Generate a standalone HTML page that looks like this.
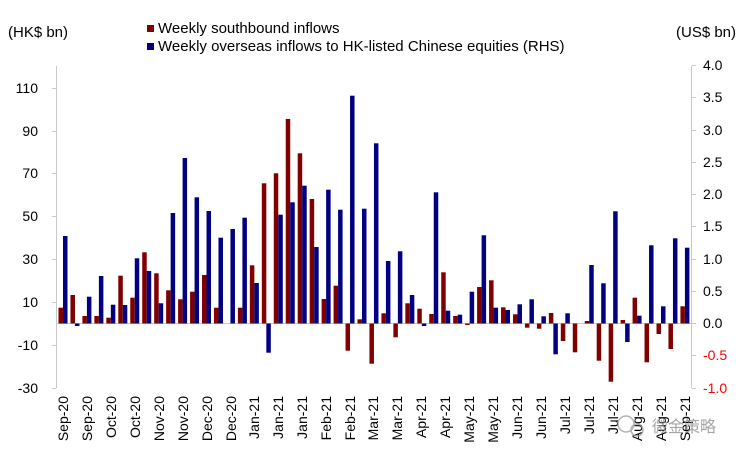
<!DOCTYPE html>
<html><head><meta charset="utf-8"><style>
html,body{margin:0;padding:0;background:#fff;}
svg{display:block;font-family:"Liberation Sans",Arial,sans-serif;}
</style></head><body>
<svg width="750" height="460" viewBox="0 0 750 460" xmlns="http://www.w3.org/2000/svg">
<rect width="750" height="460" fill="#fff"/>
<text x="8" y="37" font-size="15" fill="#000">(HK$ bn)</text>
<text x="676" y="37" font-size="15" fill="#000">(US$ bn)</text>
<rect x="147" y="25" width="7" height="7" fill="#800000"/>
<text x="158" y="33" font-size="15">Weekly southbound inflows</text>
<rect x="147" y="43" width="7" height="7" fill="#000080"/>
<text x="158" y="51" font-size="15">Weekly overseas inflows to HK-listed Chinese equities (RHS)</text>
<g stroke="#c8c8c8" stroke-width="1">
<line x1="56.5" y1="66" x2="56.5" y2="388"/>
<line x1="691.5" y1="66" x2="691.5" y2="388"/>
<line x1="52" y1="88.5" x2="56" y2="88.5"/><line x1="52" y1="131.5" x2="56" y2="131.5"/><line x1="52" y1="173.5" x2="56" y2="173.5"/><line x1="52" y1="216.5" x2="56" y2="216.5"/><line x1="52" y1="259.5" x2="56" y2="259.5"/><line x1="52" y1="302.5" x2="56" y2="302.5"/><line x1="52" y1="345.5" x2="56" y2="345.5"/><line x1="52" y1="388.5" x2="56" y2="388.5"/>
<line x1="692" y1="65.5" x2="696" y2="65.5"/><line x1="692" y1="97.5" x2="696" y2="97.5"/><line x1="692" y1="130.5" x2="696" y2="130.5"/><line x1="692" y1="162.5" x2="696" y2="162.5"/><line x1="692" y1="194.5" x2="696" y2="194.5"/><line x1="692" y1="226.5" x2="696" y2="226.5"/><line x1="692" y1="259.5" x2="696" y2="259.5"/><line x1="692" y1="291.5" x2="696" y2="291.5"/><line x1="692" y1="323.5" x2="696" y2="323.5"/><line x1="692" y1="355.5" x2="696" y2="355.5"/><line x1="692" y1="388.5" x2="696" y2="388.5"/>
<line x1="57" y1="323.5" x2="691" y2="323.5"/>
</g>
<g font-size="14" text-anchor="end">
<text x="38" y="93">110</text><text x="38" y="136">90</text><text x="38" y="178">70</text><text x="38" y="221">50</text><text x="38" y="264">30</text><text x="38" y="307">10</text><text x="38" y="350">-10</text><text x="38" y="393">-30</text>
</g>
<g font-size="14">
<text x="703" y="70">4.0</text><text x="703" y="102">3.5</text><text x="703" y="135">3.0</text><text x="703" y="167">2.5</text><text x="703" y="199">2.0</text><text x="703" y="231">1.5</text><text x="703" y="264">1.0</text><text x="703" y="296">0.5</text><text x="703" y="328">0.0</text><text x="703" y="360" fill="#ff0000">-0.5</text><text x="703" y="393" fill="#ff0000">-1.0</text>
</g>
<g id="bars">
<g transform="translate(57,0)"><rect x="1.5" y="307.7" width="4.5" height="15.8" fill="#800000"/><rect x="6" y="236" width="4.5" height="87.5" fill="#000080"/></g>
<g transform="translate(68.96,0)"><rect x="1.5" y="295" width="4.5" height="28.5" fill="#800000"/><rect x="6" y="323.5" width="4.5" height="2.5" fill="#000080"/></g>
<g transform="translate(80.92,0)"><rect x="1.5" y="316" width="4.5" height="7.5" fill="#800000"/><rect x="6" y="296.7" width="4.5" height="26.8" fill="#000080"/></g>
<g transform="translate(92.88,0)"><rect x="1.5" y="316" width="4.5" height="7.5" fill="#800000"/><rect x="6" y="276" width="4.5" height="47.5" fill="#000080"/></g>
<g transform="translate(104.84,0)"><rect x="1.5" y="317.7" width="4.5" height="5.8" fill="#800000"/><rect x="6" y="304.7" width="4.5" height="18.8" fill="#000080"/></g>
<g transform="translate(116.8,0)"><rect x="1.5" y="275.7" width="4.5" height="47.8" fill="#800000"/><rect x="6" y="305" width="4.5" height="18.5" fill="#000080"/></g>
<g transform="translate(128.76,0)"><rect x="1.5" y="297.7" width="4.5" height="25.8" fill="#800000"/><rect x="6" y="258.3" width="4.5" height="65.2" fill="#000080"/></g>
<g transform="translate(140.72,0)"><rect x="1.5" y="252.3" width="4.5" height="71.2" fill="#800000"/><rect x="6" y="271" width="4.5" height="52.5" fill="#000080"/></g>
<g transform="translate(152.68,0)"><rect x="1.5" y="273.3" width="4.5" height="50.2" fill="#800000"/><rect x="6" y="303.3" width="4.5" height="20.2" fill="#000080"/></g>
<g transform="translate(164.64,0)"><rect x="1.5" y="290.3" width="4.5" height="33.2" fill="#800000"/><rect x="6" y="213" width="4.5" height="110.5" fill="#000080"/></g>
<g transform="translate(176.6,0)"><rect x="1.5" y="299.3" width="4.5" height="24.2" fill="#800000"/><rect x="6" y="158" width="4.5" height="165.5" fill="#000080"/></g>
<g transform="translate(188.56,0)"><rect x="1.5" y="291.7" width="4.5" height="31.8" fill="#800000"/><rect x="6" y="197.3" width="4.5" height="126.2" fill="#000080"/></g>
<g transform="translate(200.52,0)"><rect x="1.5" y="275" width="4.5" height="48.5" fill="#800000"/><rect x="6" y="211" width="4.5" height="112.5" fill="#000080"/></g>
<g transform="translate(212.48,0)"><rect x="1.5" y="307.7" width="4.5" height="15.8" fill="#800000"/><rect x="6" y="237.7" width="4.5" height="85.8" fill="#000080"/></g>
<g transform="translate(224.44,0)"><rect x="6" y="229" width="4.5" height="94.5" fill="#000080"/></g>
<g transform="translate(236.4,0)"><rect x="1.5" y="307.7" width="4.5" height="15.8" fill="#800000"/><rect x="6" y="217.7" width="4.5" height="105.8" fill="#000080"/></g>
<g transform="translate(248.36,0)"><rect x="1.5" y="265.3" width="4.5" height="58.2" fill="#800000"/><rect x="6" y="283" width="4.5" height="40.5" fill="#000080"/></g>
<g transform="translate(260.32,0)"><rect x="1.5" y="183.3" width="4.5" height="140.2" fill="#800000"/><rect x="6" y="323.5" width="4.5" height="29.2" fill="#000080"/></g>
<g transform="translate(272.28,0)"><rect x="1.5" y="173.3" width="4.5" height="150.2" fill="#800000"/><rect x="6" y="214.7" width="4.5" height="108.8" fill="#000080"/></g>
<g transform="translate(284.24,0)"><rect x="1.5" y="119" width="4.5" height="204.5" fill="#800000"/><rect x="6" y="202.3" width="4.5" height="121.2" fill="#000080"/></g>
<g transform="translate(296.2,0)"><rect x="1.5" y="153.3" width="4.5" height="170.2" fill="#800000"/><rect x="6" y="185.7" width="4.5" height="137.8" fill="#000080"/></g>
<g transform="translate(308.16,0)"><rect x="1.5" y="199" width="4.5" height="124.5" fill="#800000"/><rect x="6" y="247" width="4.5" height="76.5" fill="#000080"/></g>
<g transform="translate(320.12,0)"><rect x="1.5" y="299" width="4.5" height="24.5" fill="#800000"/><rect x="6" y="189.7" width="4.5" height="133.8" fill="#000080"/></g>
<g transform="translate(332.08,0)"><rect x="1.5" y="285.7" width="4.5" height="37.8" fill="#800000"/><rect x="6" y="209.7" width="4.5" height="113.8" fill="#000080"/></g>
<g transform="translate(344.04,0)"><rect x="1.5" y="323.5" width="4.5" height="27.2" fill="#800000"/><rect x="6" y="95.7" width="4.5" height="227.8" fill="#000080"/></g>
<g transform="translate(356,0)"><rect x="1.5" y="319.3" width="4.5" height="4.2" fill="#800000"/><rect x="6" y="208.7" width="4.5" height="114.8" fill="#000080"/></g>
<g transform="translate(367.96,0)"><rect x="1.5" y="323.5" width="4.5" height="40.2" fill="#800000"/><rect x="6" y="143.3" width="4.5" height="180.2" fill="#000080"/></g>
<g transform="translate(379.92,0)"><rect x="1.5" y="313.3" width="4.5" height="10.2" fill="#800000"/><rect x="6" y="261" width="4.5" height="62.5" fill="#000080"/></g>
<g transform="translate(391.88,0)"><rect x="1.5" y="323.5" width="4.5" height="13.8" fill="#800000"/><rect x="6" y="251.3" width="4.5" height="72.2" fill="#000080"/></g>
<g transform="translate(403.84,0)"><rect x="1.5" y="303.3" width="4.5" height="20.2" fill="#800000"/><rect x="6" y="295" width="4.5" height="28.5" fill="#000080"/></g>
<g transform="translate(415.8,0)"><rect x="1.5" y="308.7" width="4.5" height="14.8" fill="#800000"/><rect x="6" y="323.5" width="4.5" height="2.5" fill="#000080"/></g>
<g transform="translate(427.76,0)"><rect x="1.5" y="314" width="4.5" height="9.5" fill="#800000"/><rect x="6" y="192.3" width="4.5" height="131.2" fill="#000080"/></g>
<g transform="translate(439.72,0)"><rect x="1.5" y="272.3" width="4.5" height="51.2" fill="#800000"/><rect x="6" y="310.7" width="4.5" height="12.8" fill="#000080"/></g>
<g transform="translate(451.68,0)"><rect x="1.5" y="316" width="4.5" height="7.5" fill="#800000"/><rect x="6" y="314.7" width="4.5" height="8.8" fill="#000080"/></g>
<g transform="translate(463.64,0)"><rect x="1.5" y="323.5" width="4.5" height="1.5" fill="#800000"/><rect x="6" y="291.7" width="4.5" height="31.8" fill="#000080"/></g>
<g transform="translate(475.6,0)"><rect x="1.5" y="287" width="4.5" height="36.5" fill="#800000"/><rect x="6" y="235.3" width="4.5" height="88.2" fill="#000080"/></g>
<g transform="translate(487.56,0)"><rect x="1.5" y="280.3" width="4.5" height="43.2" fill="#800000"/><rect x="6" y="307.7" width="4.5" height="15.8" fill="#000080"/></g>
<g transform="translate(499.52,0)"><rect x="1.5" y="307.3" width="4.5" height="16.2" fill="#800000"/><rect x="6" y="310" width="4.5" height="13.5" fill="#000080"/></g>
<g transform="translate(511.48,0)"><rect x="1.5" y="314.3" width="4.5" height="9.2" fill="#800000"/><rect x="6" y="304.3" width="4.5" height="19.2" fill="#000080"/></g>
<g transform="translate(523.44,0)"><rect x="1.5" y="323.5" width="4.5" height="4.2" fill="#800000"/><rect x="6" y="299.3" width="4.5" height="24.2" fill="#000080"/></g>
<g transform="translate(535.4,0)"><rect x="1.5" y="323.5" width="4.5" height="5.2" fill="#800000"/><rect x="6" y="316.3" width="4.5" height="7.2" fill="#000080"/></g>
<g transform="translate(547.36,0)"><rect x="1.5" y="313" width="4.5" height="10.5" fill="#800000"/><rect x="6" y="323.5" width="4.5" height="30.8" fill="#000080"/></g>
<g transform="translate(559.32,0)"><rect x="1.5" y="323.5" width="4.5" height="17.5" fill="#800000"/><rect x="6" y="313.3" width="4.5" height="10.2" fill="#000080"/></g>
<g transform="translate(571.28,0)"><rect x="1.5" y="323.5" width="4.5" height="28.8" fill="#800000"/></g>
<g transform="translate(583.24,0)"><rect x="1.5" y="321" width="4.5" height="2.5" fill="#800000"/><rect x="6" y="265" width="4.5" height="58.5" fill="#000080"/></g>
<g transform="translate(595.2,0)"><rect x="1.5" y="323.5" width="4.5" height="37.2" fill="#800000"/><rect x="6" y="283.3" width="4.5" height="40.2" fill="#000080"/></g>
<g transform="translate(607.16,0)"><rect x="1.5" y="323.5" width="4.5" height="58.2" fill="#800000"/><rect x="6" y="211.3" width="4.5" height="112.2" fill="#000080"/></g>
<g transform="translate(619.12,0)"><rect x="1.5" y="320" width="4.5" height="3.5" fill="#800000"/><rect x="6" y="323.5" width="4.5" height="18.5" fill="#000080"/></g>
<g transform="translate(631.08,0)"><rect x="1.5" y="297.7" width="4.5" height="25.8" fill="#800000"/><rect x="6" y="315.7" width="4.5" height="7.8" fill="#000080"/></g>
<g transform="translate(643.04,0)"><rect x="1.5" y="323.5" width="4.5" height="38.8" fill="#800000"/><rect x="6" y="245.3" width="4.5" height="78.2" fill="#000080"/></g>
<g transform="translate(655,0)"><rect x="1.5" y="323.5" width="4.5" height="10.5" fill="#800000"/><rect x="6" y="306.3" width="4.5" height="17.2" fill="#000080"/></g>
<g transform="translate(666.96,0)"><rect x="1.5" y="323.5" width="4.5" height="25.5" fill="#800000"/><rect x="6" y="238.3" width="4.5" height="85.2" fill="#000080"/></g>
<g transform="translate(678.92,0)"><rect x="1.5" y="306.3" width="4.5" height="17.2" fill="#800000"/><rect x="6" y="247.7" width="4.5" height="75.8" fill="#000080"/></g>
</g>
<g font-size="14" text-anchor="end">
<text transform="translate(68,396) rotate(-90)">Sep-20</text>
<text transform="translate(92,396) rotate(-90)">Sep-20</text>
<text transform="translate(116,396) rotate(-90)">Oct-20</text>
<text transform="translate(140,396) rotate(-90)">Oct-20</text>
<text transform="translate(164,396) rotate(-90)">Nov-20</text>
<text transform="translate(188,396) rotate(-90)">Nov-20</text>
<text transform="translate(212,396) rotate(-90)">Dec-20</text>
<text transform="translate(236,396) rotate(-90)">Dec-20</text>
<text transform="translate(259,396) rotate(-90)">Jan-21</text>
<text transform="translate(283,396) rotate(-90)">Jan-21</text>
<text transform="translate(307,396) rotate(-90)">Jan-21</text>
<text transform="translate(331,396) rotate(-90)">Feb-21</text>
<text transform="translate(355,396) rotate(-90)">Feb-21</text>
<text transform="translate(378,396) rotate(-90)">Mar-21</text>
<text transform="translate(402,396) rotate(-90)">Mar-21</text>
<text transform="translate(426,396) rotate(-90)">Apr-21</text>
<text transform="translate(450,396) rotate(-90)">Apr-21</text>
<text transform="translate(474,396) rotate(-90)">May-21</text>
<text transform="translate(498,396) rotate(-90)">May-21</text>
<text transform="translate(522,396) rotate(-90)">Jun-21</text>
<text transform="translate(546,396) rotate(-90)">Jun-21</text>
<text transform="translate(570,396) rotate(-90)">Jul-21</text>
<text transform="translate(594,396) rotate(-90)">Jul-21</text>
<text transform="translate(618,396) rotate(-90)">Jul-21</text>
<text transform="translate(642,396) rotate(-90)">Aug-21</text>
<text transform="translate(666,396) rotate(-90)">Aug-21</text>
<text transform="translate(690,396) rotate(-90)">Sep-21</text>
</g>
<g opacity="0.75">
<circle cx="626" cy="424" r="8" fill="none" stroke="#999" stroke-width="1.5"/>
<circle cx="637" cy="430" r="6" fill="none" stroke="#999" stroke-width="1.5"/>
<text x="652" y="432" font-size="16" fill="#888" font-family="'Noto Sans CJK SC',sans-serif">微金策略</text>
</g>
</svg>
</body></html>
